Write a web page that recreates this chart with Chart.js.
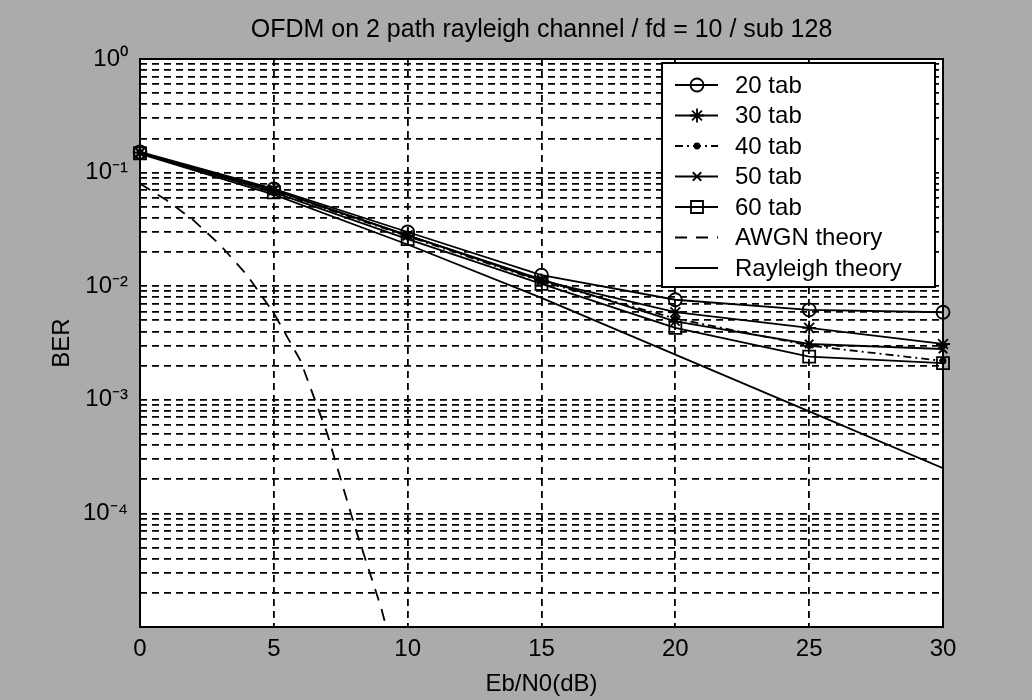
<!DOCTYPE html>
<html>
<head>
<meta charset="utf-8">
<script src="https://cdn.jsdelivr.net/npm/chart.js@4.4.1/dist/chart.umd.min.js"></script>
<style>
  html, body { margin: 0; padding: 0; background: #ababab; }
  #wrap { width: 1032px; height: 700px; }
</style>
</head>
<body>
<div id="wrap"><canvas id="ber_chart"></canvas></div>
<script>
// values
const snr_sim = [0, 5, 10, 15, 20, 25, 30];
const tab20 = [0.152, 0.072, 0.030, 0.0125, 0.0076, 0.0062, 0.0059];
const tab30 = [0.150, 0.070, 0.028, 0.0112, 0.0059, 0.0043, 0.0031];
const tab40 = [0.150, 0.069, 0.0275, 0.0110, 0.0052, 0.0030, 0.0022];
const tab50 = [0.150, 0.070, 0.028, 0.0115, 0.0049, 0.0031, 0.0028];
const tab60 = [0.148, 0.067, 0.026, 0.0105, 0.0043, 0.0024, 0.0021];

const snr_awgn = [0, 1, 2, 3, 4, 5, 6, 7, 8, 9, 10];
const awgn_theory = [0.080, 0.057, 0.038, 0.023, 0.0125, 0.0058, 0.0022, 0.0005, 0.00008, 0.000015, 0.000002];

const snr_rayleigh = [0, 5, 10, 15, 20, 25, 30];
const rayleigh_theory = [0.146, 0.064, 0.0233, 0.0079, 0.0025, 0.00079, 0.00025];

const series_labels = ["20 tab", "30 tab", "40 tab", "50 tab", "60 tab", "AWGN theory", "Rayleigh theory"];
const y_decades = [1, 0.1, 0.01, 0.001, 0.0001];
const y_labels = ["10⁰", "10⁻¹", "10⁻²", "10⁻³", "10⁻⁴"];
const chart_title = "OFDM on 2 path rayleigh channel / fd = 10 / sub 128";

// log grid: 1..9 in every decade from 1e-5 to 1
const y_grid = [];
for (let e = -5; e < 0; e++) {
  for (let m = 1; m < 10; m++) y_grid.push(m * Math.pow(10, e));
}
y_grid.push(1);

function pts(xs, ys) {
  return xs.map((x, i) => ({ x: x, y: ys[i] }));
}

Chart.defaults.font.family = "'Liberation Sans', Arial, sans-serif";
Chart.defaults.font.size = 24;
Chart.defaults.color = "#000";

const plot_bg = {
  id: "plot_bg",
  beforeDraw(chart) {
    const a = chart.chartArea;
    chart.ctx.save();
    chart.ctx.fillStyle = "#fff";
    chart.ctx.fillRect(a.left, a.top, a.right - a.left, a.bottom - a.top);
    chart.ctx.restore();
  },
  afterDraw(chart) {
    const a = chart.chartArea;
    const ctx = chart.ctx;
    ctx.save();
    ctx.strokeStyle = "#000";
    ctx.lineWidth = 2;
    ctx.strokeRect(a.left, a.top, a.right - a.left, a.bottom - a.top);
    ctx.restore();
  },
};

const legend_box = {
  id: "legend_box",
  afterDraw(chart) {
    const ctx = chart.ctx;
    const a = chart.chartArea;
    const w = 273, h = 224;
    const x0 = a.right - 8 - w, y0 = a.top + 4;
    ctx.save();
    ctx.fillStyle = "#fff";
    ctx.fillRect(x0, y0, w, h);
    ctx.lineWidth = 2;
    ctx.strokeStyle = "#000";
    ctx.strokeRect(x0, y0, w, h);
    ctx.font = "24px 'Liberation Sans', Arial, sans-serif";
    ctx.textBaseline = "middle";
    chart.data.datasets.forEach((ds, i) => {
      const y = y0 + 22 + i * 30.5;
      ctx.strokeStyle = "#000";
      ctx.lineWidth = ds.borderWidth;
      ctx.setLineDash(ds.borderDash || []);
      ctx.beginPath();
      ctx.moveTo(x0 + 13, y);
      ctx.lineTo(x0 + 56, y);
      ctx.stroke();
      ctx.setLineDash([]);
      if (ds.pointRadius > 0 && Chart.helpers && Chart.helpers.drawPoint) {
        ctx.fillStyle = ds.pointBackgroundColor;
        ctx.lineWidth = ds.pointBorderWidth;
        Chart.helpers.drawPoint(ctx, {
          pointStyle: ds.pointStyle,
          radius: ds.pointRadius,
          borderWidth: ds.pointBorderWidth,
          rotation: 0,
        }, x0 + 35, y);
      }
      ctx.fillStyle = "#000";
      ctx.fillText(ds.label, x0 + 73, y + 1);
    });
    ctx.restore();
  },
};

function sim_set(label, ys, style, radius, fill, dash) {
  return {
    label: label,
    data: pts(snr_sim, ys),
    borderColor: "#000",
    borderWidth: 1.8,
    borderDash: dash || [],
    pointStyle: style,
    pointRadius: radius,
    pointBorderColor: "#000",
    pointBackgroundColor: fill,
    pointBorderWidth: 1.8,
    tension: 0,
    clip: 14,
  };
}

new Chart(document.getElementById("ber_chart"), {
  type: "line",
  data: {
    datasets: [
      sim_set(series_labels[0], tab20, "circle", 6.5, "rgba(0,0,0,0)"),
      sim_set(series_labels[1], tab30, "star", 7, "rgba(0,0,0,0)"),
      sim_set(series_labels[2], tab40, "circle", 2.5, "#000", [8, 4, 2, 4]),
      sim_set(series_labels[3], tab50, "crossRot", 6, "rgba(0,0,0,0)"),
      sim_set(series_labels[4], tab60, "rect", 8.5, "rgba(0,0,0,0)"),
      {
        label: series_labels[5],
        data: pts(snr_awgn, awgn_theory),
        borderColor: "#000",
        borderWidth: 1.8,
        borderDash: [12, 9],
        pointRadius: 0,
        tension: 0,
      },
      {
        label: series_labels[6],
        data: pts(snr_rayleigh, rayleigh_theory),
        borderColor: "#000",
        borderWidth: 1.8,
        borderDash: [],
        pointRadius: 0,
        tension: 0,
      },
    ],
  },
  options: {
    responsive: true,
    maintainAspectRatio: false,
    animation: false,
    layout: { padding: { left: 0, right: 89, top: 0, bottom: 0 } },
    plugins: {
      legend: { display: false },
      tooltip: { enabled: false },
      title: {
        display: true,
        fullSize: false,
        text: chart_title,
        color: "#000",
        font: { size: 25, weight: "normal" },
        padding: { top: 15, bottom: 14 },
      },
    },
    scales: {
      x: {
        type: "linear",
        min: 0,
        max: 30,
        ticks: { stepSize: 5, padding: 8, color: "#000" },
        grid: { color: "#000", lineWidth: 1.8, drawTicks: false },
        border: { display: false, dash: [7, 5] },
        title: { display: true, text: "Eb/N0(dB)", color: "#000", padding: { top: 0, bottom: 1 } },
        afterFit: (scale) => { scale.height = 73; },
      },
      y: {
        type: "logarithmic",
        min: 0.00001,
        max: 1,
        afterBuildTicks: (scale) => {
          scale.ticks = y_grid.map((v) => ({ value: v }));
        },
        ticks: {
          autoSkip: false,
          padding: 12,
          color: "#000",
          callback: (value) => {
            const k = y_decades.findIndex((d) => Math.abs(Math.log10(d) - Math.log10(value)) < 1e-6);
            return k >= 0 ? y_labels[k] : "";
          },
        },
        grid: { color: "#000", lineWidth: 1.8, drawTicks: false },
        border: { display: false, dash: [7, 5] },
        title: { display: true, text: "BER", color: "#000", padding: { top: 48, bottom: 0 } },
        afterFit: (scale) => { scale.width = 140; },
      },
    },
  },
  plugins: [plot_bg, legend_box],
});
</script>
</body>
</html>
